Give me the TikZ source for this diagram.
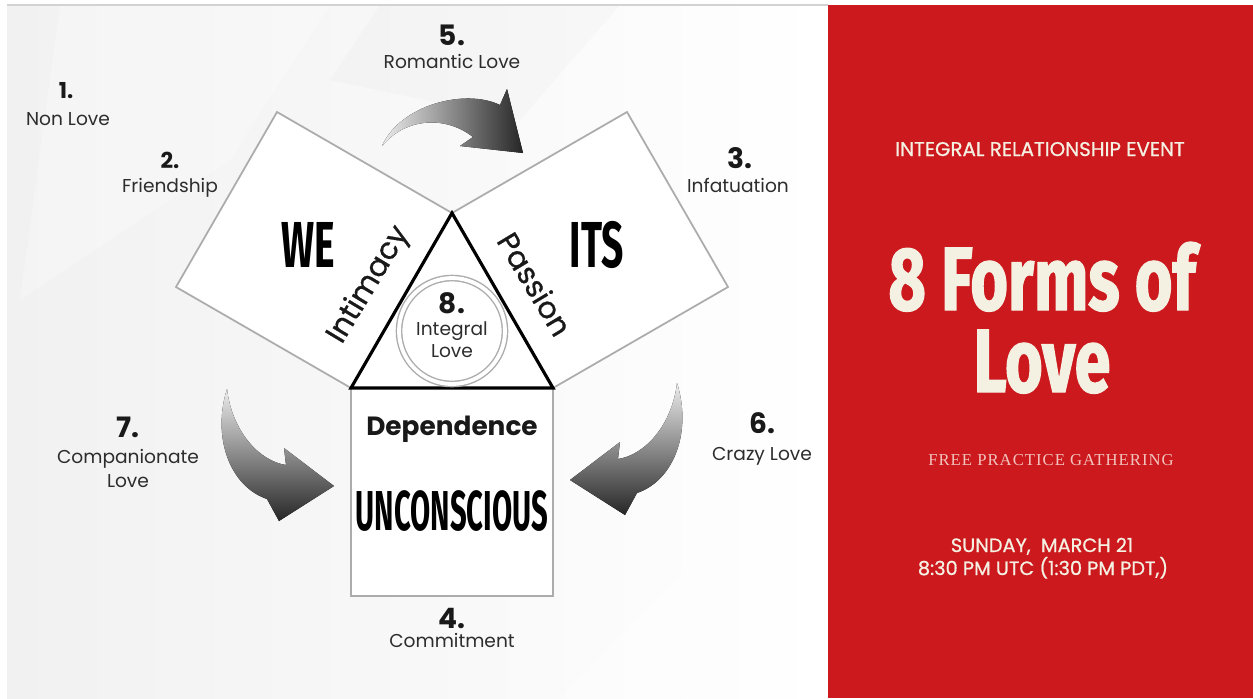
\documentclass[tikz,border=0pt]{standalone}
\usepackage{fontspec}
\setmainfont{Poppins}
\newfontfamily\condfont[FakeStretch=0.6]{Fira Sans}
\newfontfamily\tallfont[FakeStretch=0.52]{Fira Sans}
\newfontfamily\titlefont[FakeStretch=0.72,FakeBold=1.5]{Fira Sans}
\newfontfamily\medfont[FakeBold=0.8]{Poppins}
\newfontfamily\freefont[LetterSpace=6]{Liberation Serif}
\usetikzlibrary{positioning}
\usetikzlibrary{calc}
\definecolor{panelred}{RGB}{204,25,30}
\definecolor{cream}{RGB}{244,240,226}
\definecolor{freepink}{RGB}{242,196,190}
\definecolor{ink}{RGB}{45,45,45}

\begin{document}
\begin{tikzpicture}[x=0.02cm, y=-0.02cm,
  num/.style={anchor=base, inner sep=0, text=black!90, font=\fontsize{16}{18}\selectfont\bfseries},
  small num/.style={num, font=\fontsize{12.5}{14}\selectfont\bfseries},
  lbl/.style={inner sep=0, text=ink, font=\fontsize{10.6}{13.6}\selectfont},
  face/.style={draw=gray!65, line width=1pt, fill=white},
  big/.style={anchor=base, inner sep=0, text=black, font=\condfont\bfseries\fontsize{37}{40}\selectfont},
  sidew/.style={inner sep=0, text=black!90, font=\medfont\fontsize{17}{19}\selectfont},
  side/.style={anchor=base, inner sep=0, text=cream, font=\medfont\fontsize{11.3}{13}\selectfont},
  curlarrow/.style={draw=none}]
\useasboundingbox (0,0) rectangle (1253,698);
\fill[white] (0,0) rectangle (1253,698);
% background
\fill[left color=gray!11, right color=white] (7,5) rectangle (828,698);
\fill[white, opacity=0.25] (60,5) -- (330,5) -- (230,160) -- (20,300) -- cycle;
\fill[white, opacity=0.35] (560,698) -- (828,420) -- (828,698) -- cycle;
\fill[gray, opacity=0.03] (380,5) -- (620,5) -- (520,120) -- (330,80) -- cycle;
\draw[gray!35, line width=0.6pt] (7,5) -- (828,5);
\fill[panelred] (828,5) rectangle (1253,698);

% the three squares and the triangle
\coordinate (A) at (452,213);
\coordinate (B) at (351,388);
\coordinate (C) at (553,388);
\draw[face] (A) -- (B) -- ($(B)+(-175,-101)$) -- ($(A)+(-175,-101)$) -- cycle;
\draw[face] (A) -- (C) -- ($(C)+(175,-101)$) -- ($(A)+(175,-101)$) -- cycle;
\draw[face] (B) -- (C) -- ($(C)+(0,208)$) -- ($(B)+(0,208)$) -- cycle;
\draw[line width=1.8pt, fill=white, line join=miter] (A) -- (B) -- (C) -- cycle;
\node[draw=gray!65, line width=0.8pt, double=white, double distance=2.2pt, circle, minimum width=2.12cm] (ring) at (452,331) {};

% curved arrows
\fill[curlarrow, left color=gray!15, right color=black!85] (382,146) .. controls (400,105) and (465,88) .. (500,105) -- (507,89) -- (523,153) -- (460,146) -- (473,137) .. controls (445,115) and (405,118) .. (382,146) -- cycle;
\fill[curlarrow, top color=gray!15, bottom color=black!85] (677,383) .. controls (692,430) and (675,480) .. (637,493) -- (625,515) -- (570,480) -- (620,442) -- (618,459) .. controls (645,455) and (672,425) .. (677,383) -- cycle;
\fill[curlarrow, top color=gray!15, bottom color=black!85] (227,389) .. controls (212,436) and (229,486) .. (267,499) -- (279,521) -- (334,486) -- (284,448) -- (286,465) .. controls (259,461) and (232,431) .. (227,389) -- cycle;

% words in the figure
\node[big] (we) at (308,267) {WE};
\node[big] (its) at (597,267) {ITS};
\node[big, font=\tallfont\bfseries\fontsize{32}{34}\selectfont] (unc) at (452,530) {UNCONSCIOUS};
\node[inner sep=0, anchor=base, text=black!90, font=\fontsize{15}{18}\selectfont\bfseries] (dep) at (452,435) {Dependence};
\node[sidew, rotate=59] (int) at (369,285) {Intimacy};
\node[sidew, rotate=-59] (pas) at (535,284) {Passion};

% numbered labels
\node[small num] (n1) at (66,98) {1.};
\node[lbl, anchor=base] (t1) at (68,125) {Non Love};
\node[small num] (n2) at (170,168) {2.};
\node[lbl, anchor=base] (t2) at (170,192) {Friendship};
\node[num] (n3) at (740,168) {3.};
\node[lbl, anchor=base] (t3) at (738,192) {Infatuation};
\node[num] (n4) at (452,628) {4.};
\node[lbl, anchor=base] (t4) at (452,647) {Commitment};
\node[num] (n5) at (452,45) {5.};
\node[lbl, anchor=base] (t5) at (452,68) {Romantic Love};
\node[num] (n6) at (762,433) {6.};
\node[lbl, anchor=base] (t6) at (762,460) {Crazy Love};
\node[num] (n7) at (128,437) {7.};
\node[lbl, anchor=north, align=center] (t7) at (128,449) {Companionate\\Love};
\node[num] (n8) at (452,313) {8.};
\node[lbl, anchor=north, align=center, font=\fontsize{10.6}{12.5}\selectfont] (t8) at (452,321) {Integral\\Love};

% red panel
\node[side] (event) at (1040,156) {INTEGRAL RELATIONSHIP EVENT};
\node[side, font=\titlefont\bfseries\fontsize{51}{58}\selectfont] (title) at (1042,310) {8 Forms of};
\node[side, font=\titlefont\bfseries\fontsize{51}{58}\selectfont] (love) at (1042,392) {Love};
\node[side, text=freepink, font=\freefont\fontsize{9.5}{11}\selectfont] (free) at (1051,465) {FREE PRACTICE GATHERING};
\node[side, font=\medfont\fontsize{11}{13}\selectfont] (day) at (1042,552) {SUNDAY,\ \ MARCH 21};
\node[side, font=\medfont\fontsize{11}{13}\selectfont] (time) at (1043,575) {8:30 PM UTC (1:30 PM PDT,)};
\end{tikzpicture}
\end{document}
